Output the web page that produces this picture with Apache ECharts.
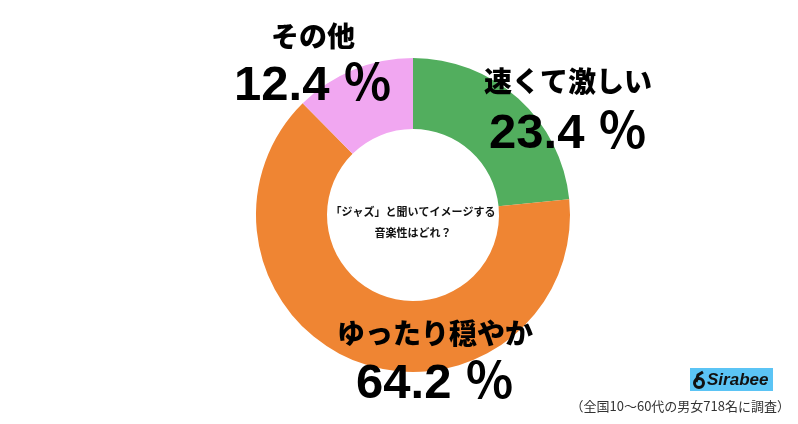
<!DOCTYPE html>
<html><head><meta charset="utf-8">
<script src="https://cdn.jsdelivr.net/npm/echarts@6/dist/echarts.min.js"></script>
<style>html,body{margin:0;padding:0;background:#fff}#c{width:798px;height:424px}</style>
</head><body><div id="c"></div>
<script>
const categories = ['速くて激しい', 'ゆったり穏やか', 'その他'];
const values = [23.4, 64.2, 12.4];
const colors = ['#52ae5e', '#ef8533', '#f1a7f1'];
const centerLines = ['「ジャズ」と聞いてイメージする', '音楽性はどれ？'];
const footnote = '（全国10〜60代の男女718名に調査）';
const brand = 'Sirabee';

// label anchor positions (layout only)
const labelPos = [
  {x: 568, y: 81, vy: 134},
  {x: 435, y: 333, vy: 384},
  {x: 313, y: 36, vy: 86}
];

const chart = echarts.init(document.getElementById('c'), null, {renderer: 'canvas'});
const jp = "'Noto Sans CJK JP', sans-serif";
const num = "'Liberation Sans', 'Noto Sans CJK JP', sans-serif";

const graphics = [];
categories.forEach((c, i) => {
  graphics.push({type: 'text', x: labelPos[i].x, y: labelPos[i].y, z: 10,
    style: {text: c, fontFamily: jp, fontWeight: 900, fontSize: 28, fill: '#000', align: 'center', verticalAlign: 'middle'}});
  graphics.push({type: 'text', x: labelPos[i].x, y: labelPos[i].vy, z: 10,
    style: {text: values[i].toFixed(1) + ' ％', fontFamily: num, fontWeight: 'bold', fontSize: 49, fill: '#000', align: 'center', verticalAlign: 'middle'}});
});
centerLines.forEach((t, i) => {
  graphics.push({type: 'text', x: 413, y: 212 + i * 21, z: 10,
    style: {text: t, fontFamily: jp, fontWeight: 'bold', fontSize: 11, fill: '#111', align: 'center', verticalAlign: 'middle'}});
});
graphics.push({type: 'rect', shape: {x: 690, y: 368, width: 83, height: 23}, style: {fill: '#5bc4f5'}});
graphics.push({type: 'circle', shape: {cx: 699, cy: 383, r: 4.5}, style: {fill: 'none', stroke: '#111', lineWidth: 3}});
graphics.push({type: 'polyline', shape: {points: [[696, 382], [698, 375], [703, 372]]}, style: {stroke: '#111', lineWidth: 3, fill: 'none'}});
graphics.push({type: 'text', x: 707, y: 380, style: {text: brand, fontFamily: "'Liberation Sans', sans-serif", fontWeight: 'bold', fontStyle: 'italic', fontSize: 17, fill: '#111', verticalAlign: 'middle'}});
graphics.push({type: 'text', x: 790, y: 406, style: {text: footnote, fontFamily: jp, fontSize: 13, fill: '#333', align: 'right', verticalAlign: 'middle'}});

chart.setOption({
  animation: false,
  series: [{
    type: 'pie',
    center: [413, 215],
    radius: [86, 157],
    startAngle: 90,
    clockwise: true,
    silent: true,
    label: {show: false},
    labelLine: {show: false},
    itemStyle: {borderWidth: 0},
    data: categories.map((c, i) => ({name: c, value: values[i], itemStyle: {color: colors[i]}}))
  }],
  graphic: graphics
});
</script></body></html>
